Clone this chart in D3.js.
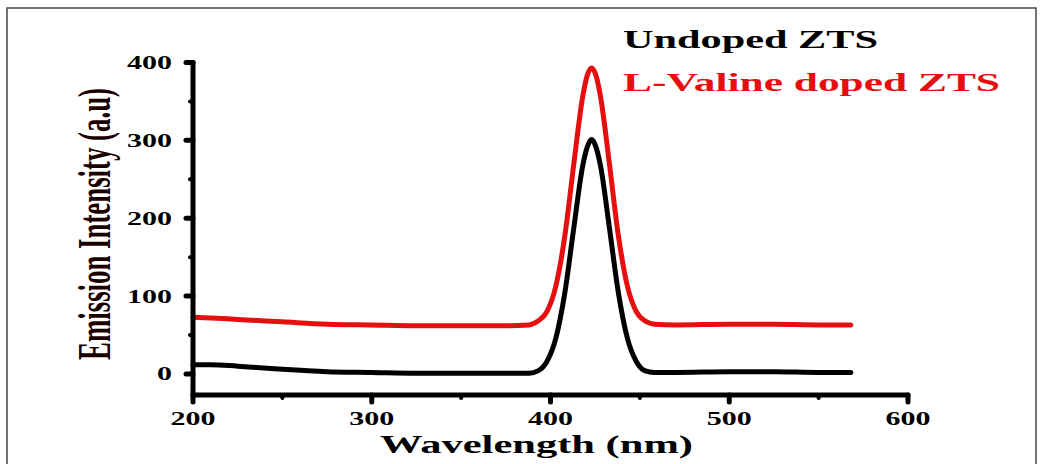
<!DOCTYPE html>
<html>
<head>
<meta charset="utf-8">
<style>
  body { margin: 0; background: #fff; }
  svg { display: block; font-family: "Liberation Serif", "Times New Roman", serif; }
</style>
</head>
<body>
<svg id="chart" width="1040" height="464"></svg>
<script src="https://cdnjs.cloudflare.com/ajax/libs/d3/7.8.5/d3.min.js"></script>
<script>
// wavelength (nm) and emission intensity (a.u)
const wavelength = [200, 210, 225, 250, 275, 300, 325, 350, 375, 388, 393, 398, 403, 408, 413, 418, 420.5, 423, 425.5, 428, 433, 438, 443, 448, 453, 458, 470, 500, 525, 550, 568];
const undoped    = [12, 12, 10, 6, 3, 2, 1, 1, 1, 1, 4, 16, 46, 104, 187, 267, 291, 301, 291, 267, 187, 104, 46, 16, 4, 2, 2, 3, 3, 2, 2];
const valine     = [73, 72, 70, 67, 64, 63, 62, 62, 62, 63, 68, 80, 113, 177, 269, 356, 383, 393, 383, 356, 269, 177, 113, 80, 68, 64, 63, 64, 64, 63, 63];

const xTicks = [200, 300, 400, 500, 600];
const xMinor = [250, 350, 450, 550];
const yTicks = [0, 100, 200, 300, 400];
const yMinor = [50, 150, 250, 350];

const seriesNames = ["Undoped ZTS", "L-Valine doped ZTS"];
const seriesColors = ["#000000", "#e60f0f"];

const svg = d3.select("#chart");

// outer frame
svg.append("rect")
    .attr("x", 7).attr("y", 8)
    .attr("width", 1029).attr("height", 480)
    .attr("fill", "none").attr("stroke", "#444").attr("stroke-width", 1.5);

const x = d3.scaleLinear().domain([200, 600]).range([193, 908]);
const y = d3.scaleLinear().domain([-27, 400]).range([395, 62.5]);

const line = d3.line()
    .x(d => x(d[0]))
    .y(d => y(d[1]))
    .curve(d3.curveMonotoneX);

// curves
[undoped, valine].forEach((vals, i) => {
    svg.append("path")
        .datum(wavelength.map((w, j) => [w, vals[j]]))
        .attr("d", line)
        .attr("fill", "none")
        .attr("stroke", seriesColors[i])
        .attr("stroke-width", 5)
        .attr("stroke-linejoin", "round")
        .attr("stroke-linecap", "round");
});

// axes
const axisG = svg.append("g").attr("stroke", "#000").attr("stroke-linecap", "round");
axisG.append("line")
    .attr("x1", x(200)).attr("x2", x(600))
    .attr("y1", y(-27)).attr("y2", y(-27))
    .attr("stroke-width", 5);
axisG.append("line")
    .attr("x1", x(200)).attr("x2", x(200))
    .attr("y1", y(-27)).attr("y2", y(400))
    .attr("stroke-width", 5);

xTicks.forEach(t => {
    axisG.append("line").attr("x1", x(t)).attr("x2", x(t))
        .attr("y1", y(-27)).attr("y2", y(-27) + 7).attr("stroke-width", 5);
});
xMinor.forEach(t => {
    axisG.append("line").attr("x1", x(t)).attr("x2", x(t))
        .attr("y1", y(-27)).attr("y2", y(-27) + 3).attr("stroke-width", 4);
});
yTicks.forEach(t => {
    axisG.append("line").attr("x1", x(200)).attr("x2", x(200) - 7)
        .attr("y1", y(t)).attr("y2", y(t)).attr("stroke-width", 5);
});
yMinor.forEach(t => {
    axisG.append("line").attr("x1", x(200)).attr("x2", x(200) - 3)
        .attr("y1", y(t)).attr("y2", y(t)).attr("stroke-width", 4);
});

// tick labels (the original image is stretched sideways, so text is too)
const sx = 1.58;
xTicks.forEach(t => {
    svg.append("g")
        .attr("transform", `translate(${x(t)},425) scale(${sx},1)`)
        .append("text")
        .attr("text-anchor", "middle")
        .attr("font-size", 19).attr("font-weight", "bold")
        .text(t);
});
yTicks.forEach(t => {
    svg.append("g")
        .attr("transform", `translate(172,${y(t) + 6.5}) scale(${sx},1)`)
        .append("text")
        .attr("text-anchor", "end")
        .attr("font-size", 19).attr("font-weight", "bold")
        .text(t);
});

// axis titles
svg.append("text")
    .attr("x", 380).attr("y", 453)
    .attr("font-size", 25).attr("font-weight", "bold")
    .attr("textLength", 313).attr("lengthAdjust", "spacingAndGlyphs")
    .text("Wavelength (nm)");

svg.append("g")
    .attr("transform", "translate(110,224) scale(1.65,1) rotate(-90)")
    .append("text")
    .attr("x", -136)
    .attr("font-size", 28).attr("font-weight", "bold")
    .attr("fill", "#1a0000")
    .attr("textLength", 272).attr("lengthAdjust", "spacingAndGlyphs")
    .text("Emission Intensity (a.u)");

// legend
const legendY = [48, 91];
const legendW = [255, 377];
seriesNames.forEach((n, i) => {
    svg.append("text")
        .attr("x", 623).attr("y", legendY[i])
        .attr("font-size", 26).attr("font-weight", "bold")
        .attr("fill", seriesColors[i])
        .attr("textLength", legendW[i]).attr("lengthAdjust", "spacingAndGlyphs")
        .text(n);
});
</script>
</body>
</html>
